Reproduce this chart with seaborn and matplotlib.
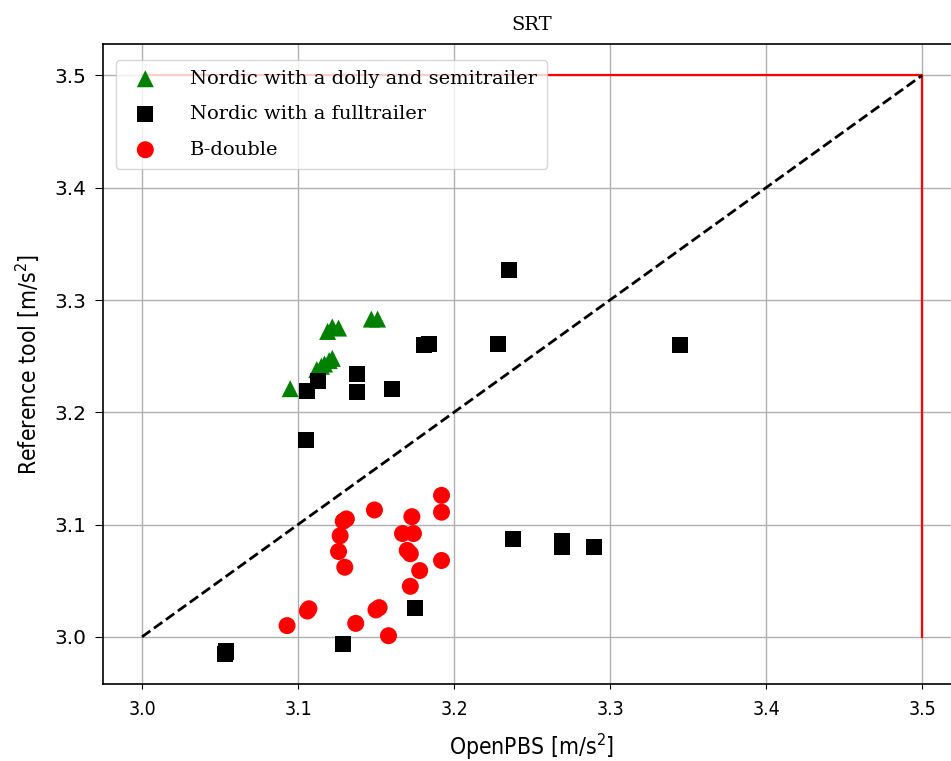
import matplotlib
matplotlib.use("Agg")
import matplotlib.pyplot as plt
import seaborn as sns
import numpy as np

# Data
green_x = [3.095, 3.112, 3.115, 3.117, 3.120, 3.122, 3.119, 3.122, 3.126, 3.147, 3.151]
green_y = [3.221, 3.238, 3.241, 3.243, 3.246, 3.248, 3.272, 3.276, 3.275, 3.283, 3.283]

black_x = [3.053, 3.054, 3.129, 3.175, 3.105, 3.106, 3.113, 3.138, 3.138, 3.160,
           3.181, 3.184, 3.228, 3.235, 3.345, 3.238, 3.269, 3.269, 3.290]
black_y = [2.985, 2.987, 2.994, 3.026, 3.175, 3.219, 3.228, 3.234, 3.218, 3.221,
           3.260, 3.261, 3.261, 3.327, 3.260, 3.087, 3.085, 3.080, 3.080]

red_x = [3.192, 3.192, 3.149, 3.129, 3.131, 3.173, 3.127, 3.167, 3.174, 3.126, 3.170, 3.172,
         3.192, 3.130, 3.178, 3.172, 3.106, 3.107, 3.093, 3.150, 3.152, 3.137, 3.158]
red_y = [3.126, 3.111, 3.113, 3.103, 3.105, 3.107, 3.090, 3.092, 3.092, 3.076, 3.077, 3.074,
         3.068, 3.062, 3.059, 3.045, 3.023, 3.025, 3.010, 3.024, 3.026, 3.012, 3.001]

labels = ["Nordic with a dolly and semitrailer", "Nordic with a fulltrailer", "B-double"]
limit_x = [3.0, 3.5, 3.5]
limit_y = [3.5, 3.5, 3.0]
diag = [3.0, 3.5]

plt.rcParams['mathtext.default'] = 'regular'
serif = ['DejaVu Serif']
narrow = ['DejaVu Sans']

fig = plt.figure(figsize=(9.51, 7.61), dpi=100)
ax = fig.add_axes([103/951, 77/761, 858/951, 640/761])

ax.plot(limit_x, limit_y, color='red', lw=1.6, zorder=2)
ax.plot(diag, diag, color='black', ls='--', lw=2.0, zorder=2)

sns.scatterplot(x=green_x, y=green_y, ax=ax, color='green', marker='^', s=150,
                edgecolor='none', label=labels[0], zorder=3)
sns.scatterplot(x=black_x, y=black_y, ax=ax, color='black', marker='s', s=135,
                edgecolor='none', label=labels[1], zorder=3)
sns.scatterplot(x=red_x, y=red_y, ax=ax, color='red', marker='o', s=150,
                edgecolor='none', label=labels[2], zorder=3)

ax.set_xlim(2.975, 3.525)
ax.set_ylim(2.958, 3.528)
ax.set_xticks([3.0, 3.1, 3.2, 3.3, 3.4, 3.5])
ax.set_yticks([3.0, 3.1, 3.2, 3.3, 3.4, 3.5])
ax.grid(True, color='#b0b0b0', lw=1.0, zorder=0)
ax.set_axisbelow(True)
for s in ax.spines.values():
    s.set_linewidth(1.2)
ax.tick_params(axis='x', pad=8)
ax.tick_params(axis='y', length=6, pad=6)

for t in ax.get_xticklabels():
    t.set_fontfamily(narrow)
    t.set_fontstretch('condensed')
    t.set_fontsize(14)
for t in ax.get_yticklabels():
    t.set_fontfamily(['DejaVu Sans'])
    t.set_fontsize(14.5)

ax.set_xlabel('OpenPBS [m/s$^2$]', fontsize=16.5, family=narrow, fontstretch='condensed', labelpad=9)
ax.set_ylabel('Reference tool [m/s$^2$]', fontsize=16.5, family=narrow, fontstretch='condensed', labelpad=9)
ax.set_title('SRT', fontsize=14, family=serif, pad=10)

leg = ax.legend(loc='upper left', prop={'family': serif, 'size': 14}, framealpha=0.8,
                borderpad=0.5, handletextpad=1.3, labelspacing=0.9,
                bbox_to_anchor=(0.004, 0.99))

fig.savefig('out.png', dpi=100)
